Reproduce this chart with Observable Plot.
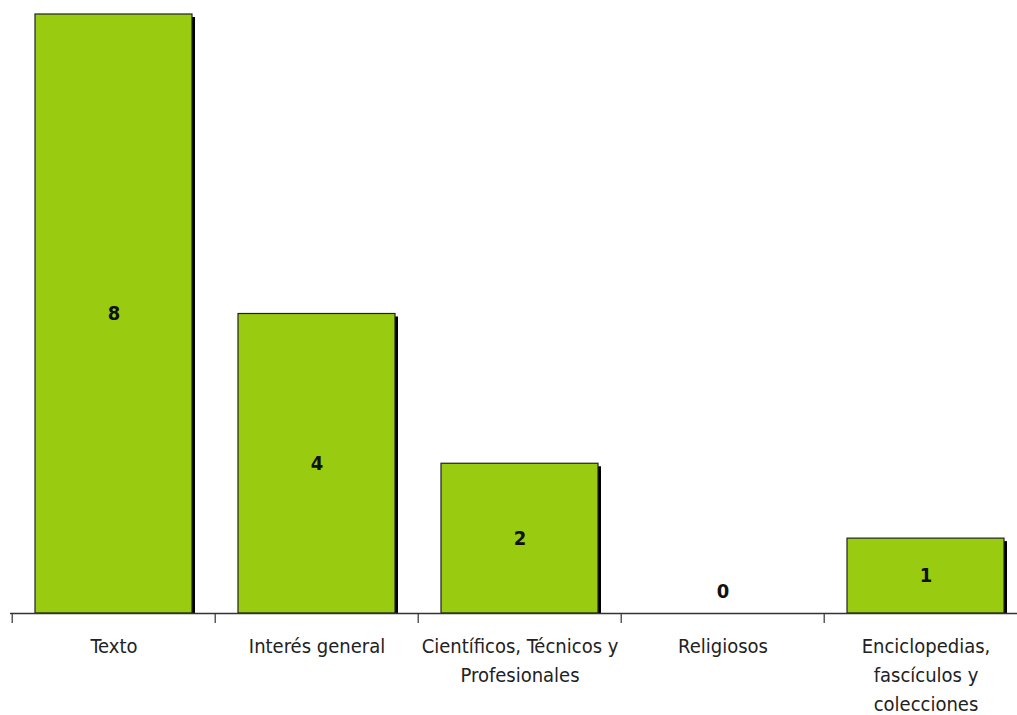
<!DOCTYPE html>
<html>
<head>
<meta charset="utf-8">
<script src="https://cdn.jsdelivr.net/npm/d3@7"></script>
<script src="https://cdn.jsdelivr.net/npm/@observablehq/plot@0.6"></script>
<style>
  html, body { margin: 0; padding: 0; background: #fff; }
  #chart svg { display: block; }
</style>
</head>
<body>
<div id="chart"></div>
<script>
const categories = ["Texto", "Interés general", "Científicos, Técnicos y\nProfesionales", "Religiosos", "Enciclopedias,\nfascículos y\ncolecciones"];
const values = [8, 4, 2, 0, 1];

const data = categories.map((c, i) => ({category: c, value: values[i]}));
const nonZero = data.filter(d => d.value > 0);
const zero = data.filter(d => d.value === 0);

const W = 1017, H = 715;
const mL = 10, mR = 0, mT = 14, mB = 102;
const xRangeEnd = 1028;
const step = (xRangeEnd - mL) / categories.length;

const chart = Plot.plot({
  width: W,
  height: H,
  marginLeft: mL,
  marginRight: mR,
  marginTop: mT,
  marginBottom: mB,
  style: {fontFamily: "'DejaVu Sans Condensed', 'DejaVu Sans', sans-serif", background: "#fff", color: "#222"},
  x: {domain: categories, range: [mL, xRangeEnd], padding: 0, label: null},
  y: {domain: [0, 8], label: null, axis: null},
  marks: [
    // shadows
    Plot.barY(nonZero, {x: "category", y: "value", fill: "#000", insetLeft: 23, insetRight: 23, insetTop: 3, dx: 3}),
    // bars
    Plot.barY(nonZero, {x: "category", y: "value", fill: "#99cc11", stroke: "#222", strokeWidth: 1.2, insetLeft: 23, insetRight: 23}),
    // value labels
    Plot.text(nonZero, {x: "category", y: d => d.value / 2, text: d => String(d.value), fontSize: 20, fontWeight: "bold", fill: "#111"}),
    Plot.text(zero, {x: "category", y: "value", text: d => String(d.value), fontSize: 20, fontWeight: "bold", fill: "#111", dy: -22}),
    // baseline
    Plot.ruleY([0], {stroke: "#333", strokeWidth: 1.5}),
    // boundary ticks below the baseline
    Plot.ruleX(categories, {x: d => d, dx: -step / 2, y1: 0, y2: 0, insetBottom: -10, stroke: "#333", strokeWidth: 1.2}),
    Plot.axisX({tickSize: 0, tickPadding: 19.5, fontSize: 20, lineHeight: 1.44, fill: "#222", anchor: "bottom"})
  ]
});

document.getElementById("chart").appendChild(chart);
</script>
</body>
</html>
